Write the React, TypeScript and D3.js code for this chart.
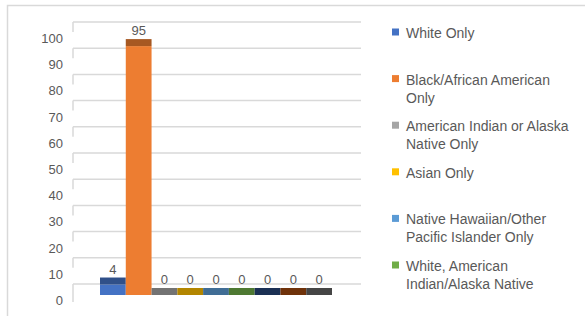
import React from 'react';
import * as d3 from 'd3';

const seriesNames = [
  'White Only',
  'Black/African American Only',
  'American Indian or Alaska Native Only',
  'Asian Only',
  'Native Hawaiian/Other Pacific Islander Only',
  'White, American Indian/Alaska Native',
  'White, Asian',
  'White, Black/African American',
  'Other Multiple Races',
];
const seriesValues = [4, 95, 0, 0, 0, 0, 0, 0, 0];
const seriesColors = [
  '#4472C4', '#ED7D31', '#A5A5A5', '#FFC000', '#5B9BD5',
  '#70AD47', '#264478', '#9E480E', '#636363',
];
const yTicks = [0, 10, 20, 30, 40, 50, 60, 70, 80, 90, 100];
// legend only has room for the first six, the rest get clipped like the original
const legendLines = [
  ['White Only'],
  ['Black/African American', 'Only'],
  ['American Indian or Alaska', 'Native Only'],
  ['Asian Only'],
  ['Native Hawaiian/Other', 'Pacific Islander Only'],
  ['White, American', 'Indian/Alaska Native'],
];

const W = 585;
const H = 316;
const depth = 7;
const wallShift = 11;
const textColor = '#595959';
const font = '"Liberation Sans", Arial, sans-serif';

const App = () => {
  const y = d3.scaleLinear().domain([0, 100]).range([295, 33]);
  const x = d3.scaleBand().domain(seriesNames).range([100, 332]).padding(0);
  const gridX0 = 73;
  const gridX1 = 361;

  return (
    <svg
      width={W}
      height={H}
      style={{ position: 'absolute', left: 0, top: 0, background: '#fff' }}
      fontFamily={font}
    >
      <path d={`M7.5,${H} V5.5 H${W}`} fill="none" stroke="#D9D9D9" strokeWidth={1.5} />

      <g className="grid">
        {yTicks.map(t => {
          const gy = y(t) - wallShift;
          return (
            <g key={t}>
              <line x1={gridX0} x2={gridX1} y1={gy} y2={gy} stroke="#D9D9D9" strokeWidth={1.5} />
              <line
                x1={gridX0}
                x2={gridX0}
                y1={gy}
                y2={gy + (t === 0 ? 18 : 10)}
                stroke="#D9D9D9"
                strokeWidth={1.5}
              />
            </g>
          );
        })}
      </g>

      <g className="y-axis" fontSize={13} fill={textColor} textAnchor="end">
        {yTicks.map(t => (
          <text key={t} x={63} y={y(t) + 10}>
            {t}
          </text>
        ))}
      </g>

      <g className="bars">
        {seriesNames.map((name, i) => {
          const bx = x(name) as number;
          const bw = x.bandwidth();
          const top = y(seriesValues[i]);
          const dark = d3.color(seriesColors[i])!.darker(1).formatHex();
          return (
            <g key={name}>
              <rect x={bx} y={top} width={bw} height={y(0) - top} fill={seriesColors[i]} />
              <rect x={bx} y={top - depth} width={bw} height={depth} fill={dark} />
              <text
                x={bx + bw / 2}
                y={top - depth - 4}
                textAnchor="middle"
                fontSize={13}
                fill={textColor}
              >
                {seriesValues[i]}
              </text>
            </g>
          );
        })}
      </g>

      <g className="legend" fontSize={14} fill={textColor}>
        {legendLines.map((lines, i) => {
          const by = 38 + i * 46.6;
          return (
            <g key={i}>
              <rect x={392} y={by - 9.5} width={7} height={7} fill={seriesColors[i]} />
              {lines.map((ln, j) => (
                <text key={j} x={406} y={by + j * 18}>
                  {ln}
                </text>
              ))}
            </g>
          );
        })}
      </g>
    </svg>
  );
};

export default App;
